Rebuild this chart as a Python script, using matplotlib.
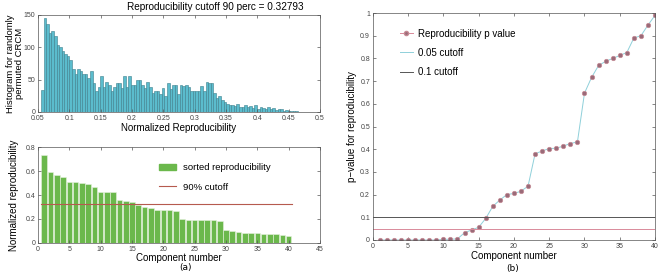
import numpy as np
import matplotlib.pyplot as plt
from matplotlib.patches import Patch
from matplotlib.lines import Line2D

plt.rcParams['font.family'] = ['Liberation Sans', 'DejaVu Sans']

# histogram of permuted CRCM reproducibility (100 bins)
hist_counts = [
    34, 145, 136, 122, 125, 117, 103, 101, 95, 90, 86, 81, 66, 58, 67, 63, 59, 59, 53, 64,
    45, 33, 38, 56, 38, 46, 41, 32, 38, 44, 44, 37, 55, 38, 55, 41, 42, 49,
    49, 42, 37, 46, 38, 29, 33, 32, 27, 37, 25, 44, 35, 42, 42, 27, 42, 40, 41, 38, 33, 32,
    33, 33, 40, 32, 46, 45, 44, 29, 21, 25, 19, 16, 12, 11, 11, 9, 12, 8,
    8, 10, 7, 9, 6, 10, 5, 7, 6, 5, 7, 4, 6, 3, 4, 5, 2, 3, 2, 1, 1, 1,
]
hist_lo, hist_hi = 0.055, 0.465
cutoff = 0.32793

sorted_repro = [
    0.735, 0.595, 0.568, 0.553, 0.512, 0.512, 0.503, 0.492, 0.465, 0.428,
    0.428, 0.422, 0.36, 0.352, 0.343, 0.318, 0.3, 0.288, 0.277, 0.276,
    0.273, 0.265, 0.2, 0.194, 0.194, 0.194, 0.19, 0.188, 0.183, 0.11,
    0.1, 0.089, 0.084, 0.084, 0.081, 0.078, 0.072, 0.071, 0.068, 0.061,
]

p_values = [
    0, 0, 0, 0, 0, 0, 0, 0, 0, 0.003,
    0.003, 0.005, 0.032, 0.044, 0.056, 0.095, 0.148, 0.176, 0.2, 0.205,
    0.215, 0.237, 0.38, 0.392, 0.403, 0.404, 0.414, 0.425, 0.432, 0.647,
    0.716, 0.769, 0.787, 0.8, 0.813, 0.826, 0.89, 0.9, 0.947, 0.99,
]

tick_kw = dict(direction='in', labelsize=5, length=2, width=0.5, pad=2,
               top=True, right=True, labelcolor='#444444', colors='#555555')
lab_fs = 7

fig = plt.figure(figsize=(6.61, 2.77), dpi=100)

# (a) top: histogram
ax1 = fig.add_axes([0.0575, 0.596, 0.4266, 0.35])
edges = np.linspace(hist_lo, hist_hi, len(hist_counts) + 1)
ax1.bar(edges[:-1], hist_counts, width=edges[1] - edges[0], align='edge',
        color='#5bbccd', edgecolor='#3d7f8c', linewidth=0.4)
ax1.set_xlim(0.05, 0.5)
ax1.set_ylim(0, 150)
ax1.set_xticks(np.arange(0.05, 0.501, 0.05))
ax1.set_xticklabels(['0.05', '0.1', '0.15', '0.2', '0.25', '0.3', '0.35', '0.4', '0.45', '0.5'])
ax1.set_yticks([0, 50, 100, 150])
ax1.tick_params(**tick_kw)
ax1.set_xlabel('Normalized Reproducibility', fontsize=lab_fs, labelpad=1)
ax1.set_ylabel('Histogram for randomly\npermuted CRCM', fontsize=6.8, linespacing=1.05)
ax1.yaxis.set_label_coords(-0.05, 0.5)
fig.text(0.325, 0.974, 'Reproducibility cutoff 90 perc = %.5f' % cutoff,
         ha='center', va='center', fontsize=7.2)

# (a) bottom: sorted reproducibility
ax2 = fig.add_axes([0.0575, 0.123, 0.4266, 0.346])
comp = np.arange(1, len(sorted_repro) + 1)
ax2.bar(comp, sorted_repro, width=0.9, color='#6bb84c', edgecolor='#e8f2e0', linewidth=0.4)
ax2.plot([0.5, len(sorted_repro) + 0.5], [cutoff, cutoff], color='#b65a4e', linewidth=0.8)
ax2.set_xlim(0, 45)
ax2.set_ylim(0, 0.8)
ax2.set_xticks(np.arange(0, 46, 5))
ax2.set_yticks([0, 0.2, 0.4, 0.6, 0.8])
ax2.set_yticklabels(['0', '0.2', '0.4', '0.6', '0.8'])
ax2.tick_params(**tick_kw)
ax2.set_xlabel('Component number', fontsize=lab_fs, labelpad=0)
ax2.set_ylabel('Normalized reproducibility', fontsize=lab_fs)
ax2.yaxis.set_label_coords(-0.067, 0.5)
ax2.legend(handles=[Patch(color='#6bb84c', label='sorted reproducibility'),
                    Line2D([], [], color='#b65a4e', linewidth=0.8, label='90% cutoff')],
           loc='upper left', bbox_to_anchor=(0.40, 0.92), frameon=False, fontsize=6.8,
           handlelength=1.75, handletextpad=0.8, labelspacing=1.1)
fig.text(0.28, 0.034, '(a)', ha='center', va='center', fontsize=6.5, family='DejaVu Sans')

# (b) p values
ax3 = fig.add_axes([0.564, 0.1336, 0.427, 0.8194])
ax3.plot(comp, p_values, color='#8fd0da', linewidth=0.7)
ax3.plot(comp, p_values, 'o', color='#9a6a78', markeredgecolor='#c58a94',
         markersize=3.2, markeredgewidth=0.5)
ax3.axhline(0.05, color='#d98a9a', linewidth=0.7)
ax3.axhline(0.1, color='#555555', linewidth=0.7)
ax3.set_xlim(0, 40)
ax3.set_ylim(0, 1)
ax3.set_xticks(np.arange(0, 41, 5))
ax3.set_yticks(np.arange(0, 1.01, 0.1))
ax3.set_yticklabels(['0', '0.1', '0.2', '0.3', '0.4', '0.5', '0.6', '0.7', '0.8', '0.9', '1'])
ax3.tick_params(**tick_kw)
ax3.set_xlabel('Component number', fontsize=lab_fs, labelpad=1)
ax3.set_ylabel('p\u2212value for reproducibility', fontsize=lab_fs)
ax3.yaxis.set_label_coords(-0.057, 0.5)
ax3.legend(handles=[Line2D([], [], color='#d98a9a', marker='o', markerfacecolor='#9a6a78',
                           markeredgecolor='#c58a94', markersize=3, linewidth=0.7,
                           label='Reproducibility p value'),
                    Line2D([], [], color='#8fd0da', linewidth=0.7, label='0.05 cutoff'),
                    Line2D([], [], color='#555555', linewidth=0.7, label='0.1 cutoff')],
           loc='upper left', bbox_to_anchor=(0.064, 0.97), frameon=False, fontsize=7,
           handlelength=1.4, handletextpad=0.5, labelspacing=0.95)
fig.text(0.776, 0.032, '(b)', ha='center', va='center', fontsize=6.5, family='DejaVu Sans')

for ax in (ax1, ax2, ax3):
    for s in ax.spines.values():
        s.set_linewidth(0.5)
        s.set_color('#555555')

fig.savefig('out.png', dpi=100)
